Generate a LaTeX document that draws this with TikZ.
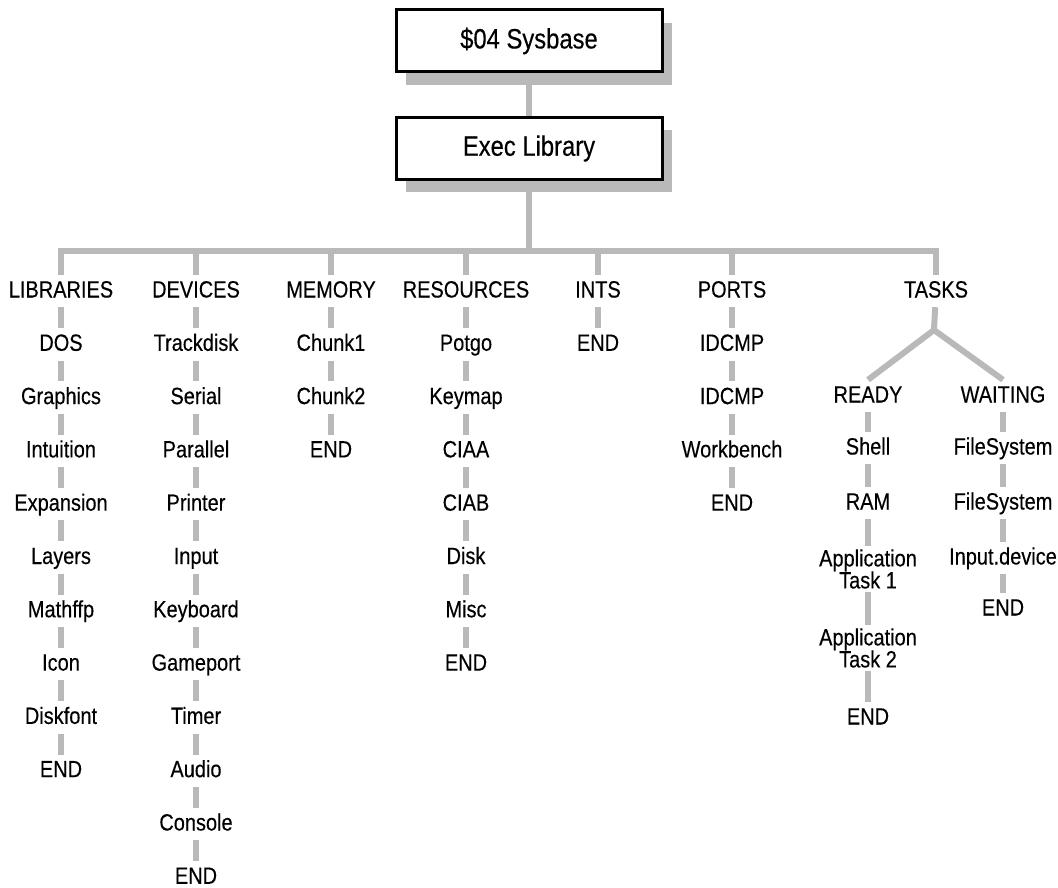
\documentclass[tikz,border=0pt]{standalone}
\usepackage{fontspec}
\setmainfont{Liberation Sans}[FakeStretch=0.85, FakeBold=0.3]
\usepackage{tikz}
\usetikzlibrary{positioning,shadows}

\tikzset{
  item/.style={font=\fontsize{23.5pt}{26pt}\selectfont, text height=19pt, text depth=6pt, inner xsep=2pt, inner ysep=3.5pt},
  twoline/.style={font=\fontsize{23.5pt}{22pt}\selectfont, align=center, inner sep=3pt},
  topbox/.style={draw, line width=3pt, fill=white, minimum width=266pt, minimum height=62pt,
    font=\fontsize{28pt}{30pt}\selectfont,
    drop shadow={shadow xshift=10pt, shadow yshift=-13pt, fill=gray!55, opacity=1}},
  link/.style={gray!55, line width=6pt}
}

\begin{document}
\begin{tikzpicture}[x=1pt, y=-1pt]
\useasboundingbox (0,0) rectangle (1058,888);

% Top boxes
\node[topbox] (sys) at (529,41) {\$04 Sysbase};
\node[topbox] (exec) at (529,148.5) {Exec Library};
\coordinate (hub) at (529,251);
\draw[link] (sys.south) -- (exec.north);
\draw[link] (exec.south) -- (hub);

% Lists
\foreach \t [count=\i] in {LIBRARIES,DOS,Graphics,Intuition,Expansion,Layers,Mathffp,Icon,Diskfont,END} {
  \node[item] (lib\i) at (61, {291+53.3*(\i-1)}) {\t};
}
\foreach \t [count=\i] in {DEVICES,Trackdisk,Serial,Parallel,Printer,Input,Keyboard,Gameport,Timer,Audio,Console,END} {
  \node[item] (dev\i) at (196, {291+53.3*(\i-1)}) {\t};
}
\foreach \t [count=\i] in {MEMORY,Chunk1,Chunk2,END} {
  \node[item] (mem\i) at (331, {291+53.3*(\i-1)}) {\t};
}
\foreach \t [count=\i] in {RESOURCES,Potgo,Keymap,CIAA,CIAB,Disk,Misc,END} {
  \node[item] (res\i) at (466, {291+53.3*(\i-1)}) {\t};
}
\foreach \t [count=\i] in {INTS,END} {
  \node[item] (ints\i) at (598, {291+53.3*(\i-1)}) {\t};
}
\foreach \t [count=\i] in {PORTS,IDCMP,IDCMP,Workbench,END} {
  \node[item] (port\i) at (732, {291+53.3*(\i-1)}) {\t};
}
\node[item] (tasks) at (936,291) {TASKS};

% Task lists
\node[item] (ready1) at (868,396) {READY};
\node[item] (ready2) at (868,448) {Shell};
\node[item] (ready3) at (868,503) {RAM};
\node[twoline] (ready4) at (868,569) {Application\\Task 1};
\node[twoline] (ready5) at (868,648) {Application\\Task 2};
\node[item] (ready6) at (868,718) {END};
\foreach \y/\t [count=\i] in {396/WAITING, 448/FileSystem, 503/FileSystem, 558/Input.device, 609/END} {
  \node[item] (wait\i) at (1003,\y) {\t};
}

% Bus
\foreach \n in {lib1,dev1,mem1,res1,ints1,port1,tasks} {
  \draw[link] (hub) -| (\n.north);
}

% Links inside each list
\foreach \i [evaluate=\i as \j using int(\i-1)] in {2,...,10} \draw[link] (lib\j) -- (lib\i);
\foreach \i [evaluate=\i as \j using int(\i-1)] in {2,...,12} \draw[link] (dev\j) -- (dev\i);
\foreach \i [evaluate=\i as \j using int(\i-1)] in {2,...,4} \draw[link] (mem\j) -- (mem\i);
\foreach \i [evaluate=\i as \j using int(\i-1)] in {2,...,8} \draw[link] (res\j) -- (res\i);
\draw[link] (ints1) -- (ints2);
\foreach \i [evaluate=\i as \j using int(\i-1)] in {2,...,5} \draw[link] (port\j) -- (port\i);
\foreach \i [evaluate=\i as \j using int(\i-1)] in {2,...,6} \draw[link] (ready\j) -- (ready\i);
\foreach \i [evaluate=\i as \j using int(\i-1)] in {2,...,5} \draw[link] (wait\j) -- (wait\i);

% Fork under TASKS
\coordinate (fork) at (934,330);
\draw[link] (tasks) -- (fork);
\draw[link] (fork) -- (ready1.north);
\draw[link] (fork) -- (wait1.north);
\end{tikzpicture}
\end{document}
